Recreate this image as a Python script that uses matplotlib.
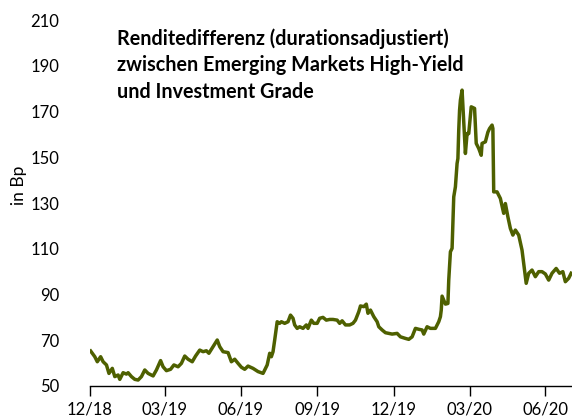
import numpy as np
import pandas as pd
import matplotlib
matplotlib.use('Agg')
from matplotlib import pyplot as plt

plt.rcParams['font.family'] = ['Lato', 'DejaVu Sans']

# spread EM high-yield vs investment grade, duration adjusted (bp)
dates = ['2019-01-01', '2019-01-06', '2019-01-09', '2019-01-13', '2019-01-16', '2019-01-20',
         '2019-01-23', '2019-01-27', '2019-01-30', '2019-02-03', '2019-02-05', '2019-02-09',
         '2019-02-13', '2019-02-15', '2019-02-19', '2019-02-23', '2019-02-27', '2019-03-03',
         '2019-03-07', '2019-03-11', '2019-03-17', '2019-03-21', '2019-03-26', '2019-03-29',
         '2019-04-02', '2019-04-07', '2019-04-11', '2019-04-16', '2019-04-20', '2019-04-24',
         '2019-04-28', '2019-05-03', '2019-05-07', '2019-05-12', '2019-05-16', '2019-05-20',
         '2019-05-23', '2019-05-28', '2019-06-02', '2019-06-05', '2019-06-09', '2019-06-15',
         '2019-06-19', '2019-06-23', '2019-06-27', '2019-07-01', '2019-07-05', '2019-07-09',
         '2019-07-15', '2019-07-21', '2019-07-27', '2019-07-29', '2019-08-01', '2019-08-04',
         '2019-08-06', '2019-08-08', '2019-08-10', '2019-08-13', '2019-08-16', '2019-08-18',
         '2019-08-22', '2019-08-26', '2019-08-29', '2019-09-01', '2019-09-03', '2019-09-06',
         '2019-09-09', '2019-09-13', '2019-09-17', '2019-09-19', '2019-09-23', '2019-09-26',
         '2019-09-30', '2019-10-03', '2019-10-07', '2019-10-11', '2019-10-15', '2019-10-19',
         '2019-10-24', '2019-10-27', '2019-10-30', '2019-11-03', '2019-11-08', '2019-11-12',
         '2019-11-15', '2019-11-19', '2019-11-21', '2019-11-25', '2019-11-28', '2019-11-30',
         '2019-12-03', '2019-12-05', '2019-12-07', '2019-12-11', '2019-12-13', '2019-12-17',
         '2019-12-21', '2019-12-25', '2019-12-29', '2020-01-04', '2020-01-08', '2020-01-14',
         '2020-01-18', '2020-01-22', '2020-01-26', '2020-01-30', '2020-02-03', '2020-02-05',
         '2020-02-09', '2020-02-13', '2020-02-19', '2020-02-23', '2020-02-25', '2020-02-26',
         '2020-02-27', '2020-03-02', '2020-03-05', '2020-03-06', '2020-03-08', '2020-03-10',
         '2020-03-12', '2020-03-14', '2020-03-16', '2020-03-17', '2020-03-18', '2020-03-19',
         '2020-03-20', '2020-03-22', '2020-03-25', '2020-03-26', '2020-03-28', '2020-03-30',
         '2020-04-02', '2020-04-06', '2020-04-08', '2020-04-11', '2020-04-14', '2020-04-15',
         '2020-04-19', '2020-04-22', '2020-04-24', '2020-04-27', '2020-04-28', '2020-04-29',
         '2020-05-03', '2020-05-07', '2020-05-11', '2020-05-13', '2020-05-16', '2020-05-19',
         '2020-05-22', '2020-05-25', '2020-05-29', '2020-06-02', '2020-06-07', '2020-06-10',
         '2020-06-14', '2020-06-18', '2020-06-22', '2020-06-26', '2020-06-30', '2020-07-04',
         '2020-07-08', '2020-07-13', '2020-07-17', '2020-07-21', '2020-07-24', '2020-07-28',
         '2020-07-31']
spread = [65.3, 62.8, 60.6, 62.8, 60.6, 59.2,
          55.5, 57.7, 54.1, 54.8, 52.9, 55.8,
          55.2, 55.8, 54.1, 52.9, 52.6, 54.1,
          57.0, 55.5, 54.4, 57.0, 61.1, 58.4,
          56.7, 57.3, 59.2, 58.4, 59.9, 63.1,
          61.7, 60.6, 63.1, 65.7, 65.0, 65.4,
          64.3, 67.2, 70.1, 67.2, 65.0, 64.6,
          60.6, 61.7, 59.9, 58.2, 57.3, 58.7,
          57.7, 56.3, 55.5, 57.0, 59.2, 64.3,
          62.8, 65.0, 70.1, 78.1, 77.4, 78.1,
          77.4, 78.1, 81.0, 79.6, 76.7, 75.2,
          75.9, 75.2, 76.7, 75.2, 78.8, 77.4,
          77.4, 79.6, 80.0, 78.8, 79.1, 79.1,
          78.8, 77.4, 78.5, 76.7, 76.7, 77.4,
          78.8, 82.5, 85.0, 84.7, 85.8, 81.8,
          83.2, 81.8, 80.3, 78.1, 75.9, 74.5,
          73.3, 73.0, 72.7, 73.0, 71.5, 70.8,
          70.4, 71.5, 75.2, 74.8, 74.5, 72.7,
          75.9, 75.2, 75.2, 78.1, 80.3, 83.2,
          89.3, 85.8, 86.1, 96.3, 108.7, 110.2,
          132.7, 137.1, 147.3, 149.5, 161.9, 170.6,
          175.0, 179.4, 158.2, 151.7, 160.4, 160.4,
          172.1, 171.4, 156.1, 153.9, 150.9, 156.1,
          156.8, 161.0, 162.6, 164.1, 162.6, 134.9,
          134.9, 132.0, 125.5, 129.8, 124.0, 118.9,
          116.0, 118.2, 116.0, 109.4, 94.9, 99.3,
          100.7, 97.8, 100.0, 100.0, 99.0, 96.3,
          99.3, 101.4, 99.3, 100.0, 95.6, 97.1,
          99.3]

tick_dates = ['2018-12-31', '2019-03-31', '2019-06-30', '2019-09-30',
              '2019-12-31', '2020-03-31', '2020-06-30']
tick_labels = ['12/18', '03/19', '06/19', '09/19', '12/19', '03/20', '06/20']

title = ('Renditedifferenz (durationsadjustiert)\n'
         'zwischen Emerging Markets High-Yield\n'
         'und Investment Grade')

x = pd.to_datetime(dates)

fig = plt.figure(figsize=(5.72, 4.2), dpi=100)
ax = fig.add_axes([0.157, 0.081, 0.843, 0.871])

ax.plot(x, spread, color='#4e6000', linewidth=2.5, solid_joinstyle='round')

ax.set_ylim(50, 210)
ax.set_yticks(np.arange(50, 211, 20))
ax.set_xlim(pd.Timestamp('2018-12-31'), pd.Timestamp('2020-08-01'))
ax.set_xticks(pd.to_datetime(tick_dates))
ax.set_xticklabels(tick_labels)

for s in ['top', 'right', 'left']:
    ax.spines[s].set_visible(False)
ax.spines['bottom'].set_color('#000000')
ax.spines['bottom'].set_linewidth(1.0)
ax.tick_params(axis='y', length=0, labelsize=12, pad=22)
ax.tick_params(axis='x', direction='out', length=7, width=1.0, labelsize=12, pad=4)

fig.text(19/572, 1 - 185/420, 'in Bp', rotation=90, fontsize=12.5,
         ha='center', va='center')

ax.text(0.056, 0.978, title, transform=ax.transAxes, fontsize=14.2, fontweight='bold',
        va='top', ha='left', linespacing=1.4)

plt.savefig('out.png', dpi=100)
